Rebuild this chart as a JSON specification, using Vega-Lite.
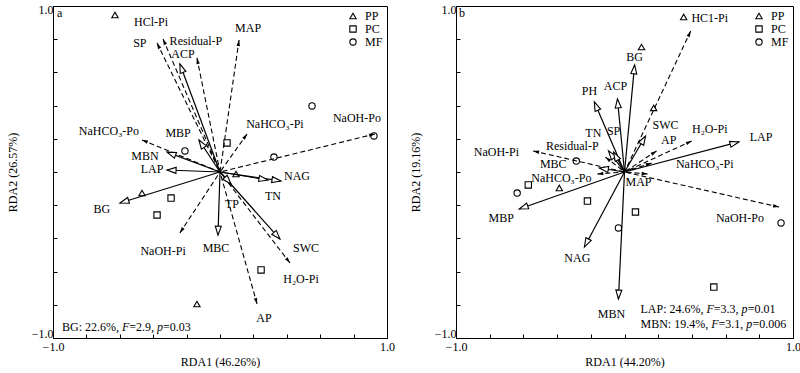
{
  "$schema": "https://vega.github.io/schema/vega-lite/v6.json",
  "padding": {"left": 5, "top": 2, "right": 0, "bottom": 0},
  "spacing": 13,
  "config": {
    "font": "Liberation Serif",
    "view": {"stroke": "#000", "strokeWidth": 1},
    "axis": {
      "grid": false, "values": [-1, -0.5, 0, 0.5, 1],
      "labelExpr": "abs(datum.value) == 1 ? format(datum.value, '.1f') : ''",
      "labelOverlap": false,
      "tickSize": -4, "tickColor": "#000", "domainColor": "#000",
      "labelColor": "#000", "titleColor": "#000",
      "labelFont": "Liberation Serif", "titleFont": "Liberation Serif",
      "labelFontSize": 12, "titleFontSize": 12, "titleFontWeight": "normal"
    },
    "axisX": {"labelFlush": false, "labelPadding": 7, "titlePadding": 4},
    "axisY": {"labelFlush": true, "labelFlushOffset": 2, "labelPadding": 4, "titlePadding": 12},
    "text": {"font": "Liberation Serif", "fontSize": 12, "color": "#000"},
    "legend": {
      "orient": "top-right", "offset": 4, "title": null, "padding": 0,
      "labelFont": "Liberation Serif", "labelFontSize": 12, "labelColor": "#000",
      "symbolStrokeColor": "#000", "symbolStrokeWidth": 1.1, "symbolSize": 40,
      "rowPadding": 1, "labelOffset": 6
    }
  },
  "datasets": {
    "arrowsA": [
      {"v": "HCl-Pi", "x": -0.341, "y": 0.801, "set": 2, "lx": -0.413, "ly": 0.904},
      {"v": "SP", "x": -0.377, "y": 0.777, "set": 2, "lx": -0.480, "ly": 0.777},
      {"v": "Residual-P", "x": -0.138, "y": 0.687, "set": 2, "lx": -0.144, "ly": 0.789},
      {"v": "ACP", "x": -0.240, "y": 0.651, "set": 1, "lx": -0.222, "ly": 0.711},
      {"v": "MAP", "x": 0.114, "y": 0.795, "set": 2, "lx": 0.168, "ly": 0.867},
      {"v": "NaHCO₃-Pi", "x": 0.162, "y": 0.229, "set": 2, "lx": 0.329, "ly": 0.289},
      {"v": "NaOH-Po", "x": 0.928, "y": 0.229, "set": 2, "lx": 0.820, "ly": 0.325},
      {"v": "NaHCO₃-Po", "x": -0.467, "y": 0.193, "set": 2, "lx": -0.665, "ly": 0.247},
      {"v": "MBP", "x": -0.126, "y": 0.193, "set": 1, "lx": -0.251, "ly": 0.235},
      {"v": "MBN", "x": -0.317, "y": 0.120, "set": 1, "lx": -0.449, "ly": 0.099},
      {"v": "LAP", "x": -0.317, "y": 0.012, "set": 1, "lx": -0.407, "ly": 0.021},
      {"v": "BG", "x": -0.599, "y": -0.187, "set": 1, "lx": -0.707, "ly": -0.223},
      {"v": "NaOH-Pi", "x": -0.240, "y": -0.367, "set": 2, "lx": -0.341, "ly": -0.476},
      {"v": "MBC", "x": -0.012, "y": -0.380, "set": 1, "lx": -0.024, "ly": -0.458},
      {"v": "TP", "x": 0.066, "y": -0.072, "set": 1, "lx": 0.072, "ly": -0.193},
      {"v": "AP", "x": 0.222, "y": -0.795, "set": 2, "lx": 0.263, "ly": -0.880},
      {"v": "H₂O-Pi", "x": 0.419, "y": -0.548, "set": 2, "lx": 0.485, "ly": -0.645},
      {"v": "SWC", "x": 0.359, "y": -0.404, "set": 1, "lx": 0.515, "ly": -0.458},
      {"v": "TN", "x": 0.287, "y": -0.048, "set": 1, "lx": 0.317, "ly": -0.145},
      {"v": "NAG", "x": 0.365, "y": -0.054, "set": 1, "lx": 0.461, "ly": -0.024}
    ],
    "ptsA": [
      {"g": "PP", "x": -0.629, "y": 0.946}, {"g": "PP", "x": -0.467, "y": -0.127},
      {"g": "PP", "x": 0.096, "y": -0.012}, {"g": "PP", "x": -0.138, "y": -0.795},
      {"g": "PC", "x": 0.042, "y": 0.175}, {"g": "PC", "x": -0.293, "y": -0.157},
      {"g": "PC", "x": -0.377, "y": -0.259}, {"g": "PC", "x": 0.246, "y": -0.590},
      {"g": "MF", "x": 0.551, "y": 0.398}, {"g": "MF", "x": 0.323, "y": 0.090},
      {"g": "MF", "x": -0.210, "y": 0.127}, {"g": "MF", "x": 0.922, "y": 0.217}
    ],
    "notesA": [
      {"t": "a", "x": -0.976, "y": 0.958, "part": "text"},
      {"t": "BG: 22.6%, ", "x": -0.946, "y": -0.934, "part": "text"},
      {"t": "F", "x": -0.587, "y": -0.934, "part": "math"},
      {"t": "=2.9, ", "x": -0.543, "y": -0.934, "part": "text"},
      {"t": "p", "x": -0.377, "y": -0.934, "part": "math"},
      {"t": "=0.03", "x": -0.341, "y": -0.934, "part": "text"}
    ],
    "arrowsB": [
      {"v": "HC1-Pi", "x": 0.393, "y": 0.849, "set": 2, "lx": 0.506, "ly": 0.928},
      {"v": "BG", "x": 0.060, "y": 0.645, "set": 1, "lx": 0.060, "ly": 0.693},
      {"v": "ACP", "x": -0.042, "y": 0.440, "set": 1, "lx": -0.054, "ly": 0.518},
      {"v": "PH", "x": -0.179, "y": 0.422, "set": 1, "lx": -0.208, "ly": 0.488},
      {"v": "TN", "x": -0.095, "y": 0.127, "set": 1, "lx": -0.185, "ly": 0.235},
      {"v": "SP", "x": -0.065, "y": 0.120, "set": 1, "lx": -0.065, "ly": 0.247},
      {"v": "Residual-P", "x": -0.113, "y": 0.090, "set": 2, "lx": -0.310, "ly": 0.157},
      {"v": "NaOH-Pi", "x": -0.542, "y": 0.127, "set": 2, "lx": -0.760, "ly": 0.120},
      {"v": "MBC", "x": -0.149, "y": 0.024, "set": 1, "lx": -0.423, "ly": 0.048},
      {"v": "NaHCO₃-Po", "x": -0.161, "y": -0.012, "set": 2, "lx": -0.375, "ly": -0.036},
      {"v": "MBP", "x": -0.625, "y": -0.223, "set": 1, "lx": -0.732, "ly": -0.277},
      {"v": "NAG", "x": -0.238, "y": -0.452, "set": 1, "lx": -0.280, "ly": -0.518},
      {"v": "MBN", "x": -0.036, "y": -0.765, "set": 1, "lx": -0.077, "ly": -0.855},
      {"v": "MAP", "x": 0.137, "y": -0.012, "set": 2, "lx": 0.083, "ly": -0.060},
      {"v": "NaOH-Po", "x": 0.917, "y": -0.211, "set": 2, "lx": 0.685, "ly": -0.277},
      {"v": "NaHCO₃-Pi", "x": 0.161, "y": 0.054, "set": 2, "lx": 0.476, "ly": 0.048},
      {"v": "LAP", "x": 0.679, "y": 0.181, "set": 1, "lx": 0.810, "ly": 0.211},
      {"v": "H₂O-Pi", "x": 0.399, "y": 0.187, "set": 2, "lx": 0.506, "ly": 0.259},
      {"v": "AP", "x": 0.190, "y": 0.127, "set": 2, "lx": 0.262, "ly": 0.193},
      {"v": "SWC", "x": 0.125, "y": 0.217, "set": 1, "lx": 0.244, "ly": 0.283}
    ],
    "ptsB": [
      {"g": "PP", "x": 0.351, "y": 0.934}, {"g": "PP", "x": 0.101, "y": 0.753},
      {"g": "PP", "x": 0.173, "y": 0.386}, {"g": "PP", "x": -0.387, "y": -0.096},
      {"g": "PC", "x": -0.571, "y": -0.078}, {"g": "PC", "x": -0.220, "y": -0.175},
      {"g": "PC", "x": 0.065, "y": -0.241}, {"g": "PC", "x": 0.530, "y": -0.693},
      {"g": "MF", "x": -0.637, "y": -0.127}, {"g": "MF", "x": -0.286, "y": 0.066},
      {"g": "MF", "x": -0.036, "y": -0.337}, {"g": "MF", "x": 0.929, "y": -0.307}
    ],
    "notesB": [
      {"t": "b", "x": -0.982, "y": 0.958, "part": "text"},
      {"t": "LAP: 24.6%, ", "x": 0.095, "y": -0.825, "part": "text"},
      {"t": "F", "x": 0.487, "y": -0.825, "part": "math"},
      {"t": "=3.3, ", "x": 0.530, "y": -0.825, "part": "text"},
      {"t": "p", "x": 0.695, "y": -0.825, "part": "math"},
      {"t": "=0.01", "x": 0.731, "y": -0.825, "part": "text"},
      {"t": "MBN: 19.4%, ", "x": 0.095, "y": -0.916, "part": "text"},
      {"t": "F", "x": 0.515, "y": -0.916, "part": "math"},
      {"t": "=3.1, ", "x": 0.558, "y": -0.916, "part": "text"},
      {"t": "p", "x": 0.723, "y": -0.916, "part": "math"},
      {"t": "=0.006", "x": 0.759, "y": -0.916, "part": "text"}
    ]
  },
  "hconcat": [
    {
      "width": 334, "height": 332,
      "layer": [
        {"mark": {"type": "rule", "color": "#bfaaa5", "strokeWidth": 1},
         "encoding": {"x": {"datum": 0, "type": "quantitative", "title": "RDA1 (46.26%)", "scale": {"domain": [-1, 1], "nice": false}}}},
        {"mark": {"type": "rule", "color": "#bfaaa5", "strokeWidth": 1},
         "encoding": {"y": {"datum": 0, "type": "quantitative", "title": "RDA2 (26.57%)", "scale": {"domain": [-1, 1], "nice": false}}}},
        {"data": {"name": "arrowsA"}, "transform": [{"filter": "datum.set == 1"}],
         "mark": {"type": "rule", "color": "#000", "strokeWidth": 1.2},
         "encoding": {"x": {"field": "x", "type": "quantitative", "title": "RDA1 (46.26%)"}, "y": {"field": "y", "type": "quantitative", "title": "RDA2 (26.57%)"}, "x2": {"datum": 0}, "y2": {"datum": 0}}},
        {"data": {"name": "arrowsA"}, "transform": [{"filter": "datum.set == 2"}],
         "mark": {"type": "rule", "color": "#000", "strokeWidth": 1.1, "strokeDash": [5, 3]},
         "encoding": {"x": {"field": "x", "type": "quantitative", "title": "RDA1 (46.26%)"}, "y": {"field": "y", "type": "quantitative", "title": "RDA2 (26.57%)"}, "x2": {"datum": 0}, "y2": {"datum": 0}}},
        {"data": {"name": "arrowsA"}, "transform": [{"filter": "datum.set == 1"}, {"calculate": "atan2(datum.x, datum.y) * 180 / PI", "as": "ang"}],
         "mark": {"type": "point", "shape": "M0,0L0.6,1.8L-0.6,1.8Z", "filled": true, "fill": "#fff", "stroke": "#000", "strokeWidth": 1.1, "size": 100, "opacity": 1},
         "encoding": {"x": {"field": "x", "type": "quantitative", "title": "RDA1 (46.26%)"}, "y": {"field": "y", "type": "quantitative", "title": "RDA2 (26.57%)"}, "angle": {"field": "ang", "type": "quantitative", "scale": null}}},
        {"data": {"name": "arrowsA"}, "transform": [{"filter": "datum.set == 2"}, {"calculate": "atan2(datum.x, datum.y) * 180 / PI", "as": "ang"}],
         "mark": {"type": "point", "shape": "M0,0L0.5,1.7L-0.5,1.7Z", "filled": true, "fill": "#000", "strokeWidth": 0, "size": 49, "opacity": 1},
         "encoding": {"x": {"field": "x", "type": "quantitative", "title": "RDA1 (46.26%)"}, "y": {"field": "y", "type": "quantitative", "title": "RDA2 (26.57%)"}, "angle": {"field": "ang", "type": "quantitative", "scale": null}}},
        {"data": {"name": "arrowsA"},
         "mark": {"type": "text", "align": "center", "baseline": "middle"},
         "encoding": {"x": {"field": "lx", "type": "quantitative", "title": "RDA1 (46.26%)"}, "y": {"field": "ly", "type": "quantitative", "title": "RDA2 (26.57%)"}, "text": {"field": "v"}}},
        {"data": {"name": "ptsA"},
         "mark": {"type": "point", "filled": false, "stroke": "#000", "strokeWidth": 1.1, "size": 40, "opacity": 1},
         "encoding": {"x": {"field": "x", "type": "quantitative", "title": "RDA1 (46.26%)"}, "y": {"field": "y", "type": "quantitative", "title": "RDA2 (26.57%)"},
           "shape": {"field": "g", "type": "nominal", "scale": {"domain": ["PP", "PC", "MF"], "range": ["triangle-up", "square", "circle"]}}}},
        {"data": {"name": "notesA"}, "transform": [{"filter": "datum.part == 'text'"}],
         "mark": {"type": "text", "align": "left", "baseline": "middle"},
         "encoding": {"x": {"field": "x", "type": "quantitative", "title": "RDA1 (46.26%)"}, "y": {"field": "y", "type": "quantitative", "title": "RDA2 (26.57%)"}, "text": {"field": "t"}}},
        {"data": {"name": "notesA"}, "transform": [{"filter": "datum.part == 'math'"}],
         "mark": {"type": "text", "align": "left", "baseline": "middle", "fontStyle": "italic"},
         "encoding": {"x": {"field": "x", "type": "quantitative", "title": "RDA1 (46.26%)"}, "y": {"field": "y", "type": "quantitative", "title": "RDA2 (26.57%)"}, "text": {"field": "t"}}}
      ]
    },
    {
      "width": 337, "height": 332,
      "layer": [
        {"mark": {"type": "rule", "color": "#bfaaa5", "strokeWidth": 1},
         "encoding": {"x": {"datum": 0, "type": "quantitative", "title": "RDA1 (44.20%)", "scale": {"domain": [-1, 1], "nice": false}}}},
        {"mark": {"type": "rule", "color": "#bfaaa5", "strokeWidth": 1},
         "encoding": {"y": {"datum": 0, "type": "quantitative", "title": "RDA2 (19.16%)", "scale": {"domain": [-1, 1], "nice": false}}}},
        {"data": {"name": "arrowsB"}, "transform": [{"filter": "datum.set == 1"}],
         "mark": {"type": "rule", "color": "#000", "strokeWidth": 1.2},
         "encoding": {"x": {"field": "x", "type": "quantitative", "title": "RDA1 (44.20%)"}, "y": {"field": "y", "type": "quantitative", "title": "RDA2 (19.16%)"}, "x2": {"datum": 0}, "y2": {"datum": 0}}},
        {"data": {"name": "arrowsB"}, "transform": [{"filter": "datum.set == 2"}],
         "mark": {"type": "rule", "color": "#000", "strokeWidth": 1.1, "strokeDash": [5, 3]},
         "encoding": {"x": {"field": "x", "type": "quantitative", "title": "RDA1 (44.20%)"}, "y": {"field": "y", "type": "quantitative", "title": "RDA2 (19.16%)"}, "x2": {"datum": 0}, "y2": {"datum": 0}}},
        {"data": {"name": "arrowsB"}, "transform": [{"filter": "datum.set == 1"}, {"calculate": "atan2(datum.x, datum.y) * 180 / PI", "as": "ang"}],
         "mark": {"type": "point", "shape": "M0,0L0.6,1.8L-0.6,1.8Z", "filled": true, "fill": "#fff", "stroke": "#000", "strokeWidth": 1.1, "size": 100, "opacity": 1},
         "encoding": {"x": {"field": "x", "type": "quantitative", "title": "RDA1 (44.20%)"}, "y": {"field": "y", "type": "quantitative", "title": "RDA2 (19.16%)"}, "angle": {"field": "ang", "type": "quantitative", "scale": null}}},
        {"data": {"name": "arrowsB"}, "transform": [{"filter": "datum.set == 2"}, {"calculate": "atan2(datum.x, datum.y) * 180 / PI", "as": "ang"}],
         "mark": {"type": "point", "shape": "M0,0L0.5,1.7L-0.5,1.7Z", "filled": true, "fill": "#000", "strokeWidth": 0, "size": 49, "opacity": 1},
         "encoding": {"x": {"field": "x", "type": "quantitative", "title": "RDA1 (44.20%)"}, "y": {"field": "y", "type": "quantitative", "title": "RDA2 (19.16%)"}, "angle": {"field": "ang", "type": "quantitative", "scale": null}}},
        {"data": {"name": "arrowsB"},
         "mark": {"type": "text", "align": "center", "baseline": "middle"},
         "encoding": {"x": {"field": "lx", "type": "quantitative", "title": "RDA1 (44.20%)"}, "y": {"field": "ly", "type": "quantitative", "title": "RDA2 (19.16%)"}, "text": {"field": "v"}}},
        {"data": {"name": "ptsB"},
         "mark": {"type": "point", "filled": false, "stroke": "#000", "strokeWidth": 1.1, "size": 40, "opacity": 1},
         "encoding": {"x": {"field": "x", "type": "quantitative", "title": "RDA1 (44.20%)"}, "y": {"field": "y", "type": "quantitative", "title": "RDA2 (19.16%)"},
           "shape": {"field": "g", "type": "nominal", "scale": {"domain": ["PP", "PC", "MF"], "range": ["triangle-up", "square", "circle"]}}}},
        {"data": {"name": "notesB"}, "transform": [{"filter": "datum.part == 'text'"}],
         "mark": {"type": "text", "align": "left", "baseline": "middle"},
         "encoding": {"x": {"field": "x", "type": "quantitative", "title": "RDA1 (44.20%)"}, "y": {"field": "y", "type": "quantitative", "title": "RDA2 (19.16%)"}, "text": {"field": "t"}}},
        {"data": {"name": "notesB"}, "transform": [{"filter": "datum.part == 'math'"}],
         "mark": {"type": "text", "align": "left", "baseline": "middle", "fontStyle": "italic"},
         "encoding": {"x": {"field": "x", "type": "quantitative", "title": "RDA1 (44.20%)"}, "y": {"field": "y", "type": "quantitative", "title": "RDA2 (19.16%)"}, "text": {"field": "t"}}}
      ]
    }
  ],
  "resolve": {"scale": {"shape": "independent"}, "legend": {"shape": "independent"}}
}
